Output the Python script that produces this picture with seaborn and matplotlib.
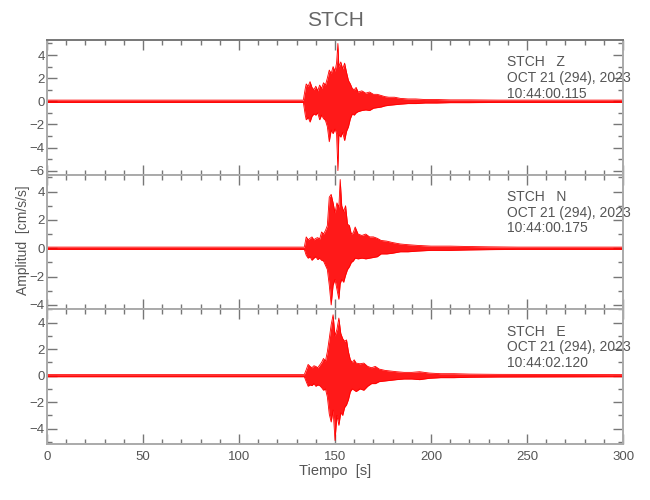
import numpy as np
import pandas as pd
import matplotlib
matplotlib.use("Agg")
import matplotlib.pyplot as plt
from matplotlib.ticker import MultipleLocator
import seaborn as sns

# envelope of each trace (upper / lower value per time step)
t_z = [0, 133.5, 134.5, 135, 136, 137, 138, 139, 140, 141, 142, 143, 144, 145, 146, 147, 148, 149, 150,
       150.8, 151.5, 152, 153, 154, 155, 156, 157, 158, 159, 160, 161,
       162, 164, 166, 168, 170, 172, 174, 176, 178,
       181, 184, 188, 192, 197, 203, 210, 220, 235, 260, 300]
up_z = [0.1, 0.1, 1.1, 1.5, 1.3, 1.7, 1.2, 1.0, 1.3, 0.9, 1.4, 1.1, 1.6, 1.4, 2.0, 2.7, 2.4, 3.0, 2.6,
        3.3, 5.0, 3.0, 3.4, 2.8, 3.3, 2.5, 1.8, 1.5, 1.1, 1.0, 1.2,
        0.8, 0.9, 0.7, 0.8, 0.6, 0.6, 0.5, 0.4, 0.35,
        0.35, 0.25, 0.2, 0.2, 0.15, 0.15, 0.12, 0.12, 0.1, 0.1, 0.1]
lo_z = [-0.1, -0.1, -1.2, -1.6, -1.4, -1.8, -1.3, -1.1, -1.2, -1.0, -1.6, -1.2, -1.5, -1.65, -2.2, -3.5, -2.5, -2.8, -2.4,
        -2.8, -6.0, -2.9, -3.1, -2.7, -3.4, -2.6, -2.2, -1.5, -1.1, -1.2, -1.0,
        -0.9, -0.8, -0.75, -0.8, -0.6, -0.55, -0.5, -0.4, -0.35,
        -0.3, -0.25, -0.2, -0.2, -0.15, -0.15, -0.12, -0.12, -0.1, -0.1, -0.1]

t_n = [0, 134, 135, 136, 137, 138, 139, 140, 141, 142, 143, 144, 145, 146, 147, 148, 149, 150, 151, 152,
       152.7, 153.5, 154.5, 155.5, 156.5, 157.5, 158.5, 159.5, 160.5, 162, 164, 166, 168, 170, 172, 174,
       177, 180, 184, 188, 193, 200, 210, 220, 230, 245, 300]
up_n = [0.08, 0.08, 0.8, 0.6, 0.7, 0.8, 0.6, 0.7, 0.75, 0.65, 1.15, 1.0, 1.25, 1.6, 3.6, 3.8, 3.2, 2.5, 3.2, 2.9,
        4.85, 3.0, 2.6, 3.0, 1.7, 1.6, 1.0, 1.1, 1.5, 1.0, 0.9, 1.0, 0.8, 0.8, 0.7, 0.55,
        0.5, 0.4, 0.3, 0.25, 0.2, 0.15, 0.15, 0.12, 0.1, 0.08, 0.08]
lo_n = [-0.08, -0.08, -0.5, -0.7, -0.6, -0.85, -0.7, -0.6, -0.8, -0.7, -0.85, -0.9, -1.2, -1.5, -2.6, -4.0, -2.6, -2.2, -2.9, -3.6,
        -2.5, -2.2, -2.4, -1.9, -1.5, -1.3, -1.0, -0.9, -0.7, -0.75, -0.7, -0.75, -0.7, -0.65, -0.6, -0.4,
        -0.4, -0.35, -0.25, -0.25, -0.2, -0.15, -0.15, -0.12, -0.1, -0.08, -0.08]

t_e = [0, 134, 135, 136, 137, 138, 139, 140, 141, 142, 143, 144, 145, 146, 147, 148, 149, 150, 151, 152,
       153, 154, 155, 156, 157, 158, 159, 160, 161, 163, 165, 167, 169, 171, 173,
       176, 179, 182, 186, 190, 194, 199, 205, 212, 220, 235, 300]
up_e = [0.08, 0.08, 0.45, 0.85, 0.7, 0.6, 0.75, 0.7, 0.6, 0.8, 1.0, 1.3, 1.1, 1.8, 2.8, 3.85, 4.6, 3.0, 3.5, 4.35,
        3.2, 2.8, 2.6, 2.7, 1.8, 1.2, 1.0, 1.2, 0.95, 0.9, 0.95, 0.7, 0.6, 0.7, 0.5,
        0.4, 0.35, 0.3, 0.25, 0.25, 0.3, 0.2, 0.15, 0.15, 0.12, 0.1, 0.08]
lo_e = [-0.08, -0.08, -0.45, -0.8, -0.7, -0.75, -0.6, -0.8, -0.7, -0.75, -0.9, -1.1, -1.0, -1.6, -2.9, -3.5, -2.6, -4.9, -3.0, -3.75,
        -2.8, -3.0, -2.4, -2.2, -1.8, -1.2, -1.0, -1.1, -1.2, -1.0, -1.1, -0.8, -0.6, -0.6, -0.45,
        -0.4, -0.35, -0.3, -0.25, -0.25, -0.3, -0.2, -0.15, -0.15, -0.12, -0.1, -0.08]

station = "STCH"
channels = ["Z", "N", "E"]
start_times = ["10:44:00.115", "10:44:00.175", "10:44:02.120"]
date_str = "OCT 21 (294), 2023"
ylims = [(-6.35, 5.3), (-4.31, 5.19), (-5.16, 5.01)]
yticks = [[-6, -4, -2, 0, 2, 4], [-4, -2, 0, 2, 4], [-4, -2, 0, 2, 4]]
xticks = [0, 50, 100, 150, 200, 250, 300]

traces = [(t_z, up_z, lo_z), (t_n, up_n, lo_n), (t_e, up_e, lo_e)]

sns.set_style("white")
plt.rcParams['font.family'] = ['Liberation Sans', 'DejaVu Sans']

fig, axes = plt.subplots(3, 1, figsize=(6.5, 5), dpi=100, sharex=True)
fig.subplots_adjust(left=0.0723, right=0.9585, top=0.92, bottom=0.112, hspace=0)

for i, ax in enumerate(axes):
    t, up, lo = traces[i]
    df = pd.DataFrame({"t": t, "up": up, "lo": lo})
    ax.fill_between(t, lo, up, color="red", alpha=0.9, lw=0)
    # upper and lower edge of the trace
    sns.lineplot(data=df, x="t", y="up", sort=False, estimator=None,
                 color="red", lw=0.6, ax=ax)
    sns.lineplot(data=df, x="t", y="lo", sort=False, estimator=None,
                 color="red", lw=0.6, ax=ax)

    ax.set_xlim(0, 300)
    ax.set_ylim(*ylims[i])
    ax.set_xticks(xticks)
    ax.xaxis.set_minor_locator(MultipleLocator(10))
    ax.set_yticks(yticks[i])
    ax.yaxis.set_minor_locator(MultipleLocator(1))
    ax.tick_params(which="both", direction="in", top=True, right=True,
                   bottom=True, left=True, color="#777777", labelcolor="#555555",
                   labelsize=9.5)
    ax.tick_params(which="major", length=7, width=1.0)
    ax.tick_params(which="minor", length=3.5, width=1.0)
    ax.tick_params(axis="y", pad=1.5)
    ax.tick_params(axis="x", pad=5)
    for s in ax.spines.values():
        s.set_color("#aaaaaa")
        s.set_linewidth(1.4)
    ax.set_xlabel("")
    ax.set_ylabel("")
    if i < 2:
        ax.tick_params(axis="x", labelbottom=False)

    ax.text(0.799, 0.885, f"{station}   {channels[i]}\n{date_str}\n{start_times[i]}",
            transform=ax.transAxes, ha="left", va="top", fontsize=10,
            color="#555555", linespacing=1.15)

axes[0].spines["top"].set_color("#777777")

fig.text(335 / 650, 1 - 21 / 500, station, ha="center", va="center",
         fontsize=15, color="#666666")
fig.text(23 / 650, 1 - 240 / 500, "Amplitud  [cm/s/s]", rotation=90,
         ha="center", va="center", fontsize=10, color="#555555")
fig.text(335 / 650, 1 - 471 / 500, "Tiempo  [s]", ha="center", va="center",
         fontsize=10.5, color="#555555")

fig.savefig("out.png", dpi=100)
